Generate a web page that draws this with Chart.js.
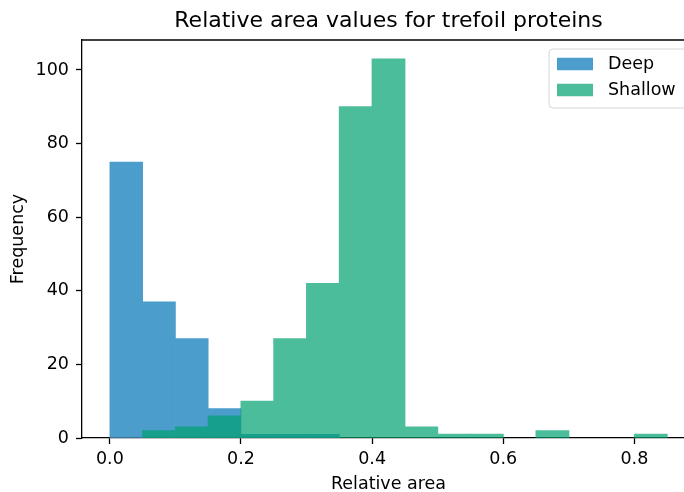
<!DOCTYPE html>
<html>
<head>
<meta charset="utf-8">
<script src="https://cdn.jsdelivr.net/npm/chart.js@4.4.0/dist/chart.umd.min.js"></script>
<style>
  html, body { margin: 0; padding: 0; overflow: hidden; background: #fff; }
  #wrap { width: 700px; height: 492px; }
</style>
</head>
<body>
<div id="wrap"><canvas id="c" width="700" height="492"></canvas></div>
<script>
// ---- data ----
const binStarts = [0.00, 0.05, 0.10, 0.15, 0.20, 0.25, 0.30, 0.35, 0.40, 0.45, 0.50, 0.55, 0.60, 0.65, 0.70, 0.75, 0.80];
const binWidth = 0.05;
const deepCounts    = [75, 37, 27, 8, 1, 1, 1, 0, 0, 0, 0, 0, 0, 0, 0, 0, 0];
const shallowCounts = [0, 2, 3, 6, 10, 27, 42, 90, 103, 3, 1, 1, 0, 2, 0, 0, 1];
const seriesNames = ['Deep', 'Shallow'];
const xTicks = [0.0, 0.2, 0.4, 0.6, 0.8];
const yTicks = [0, 20, 40, 60, 80, 100];
const titleText = 'Relative area values for trefoil proteins';
const xLabel = 'Relative area';
const yLabel = 'Frequency';

const deepColor = '#4b9dcb';
const shallowBase = 'rgb(0,161,112)';
const shallowAlpha = 0.7;
const shallowColor = 'rgba(0,161,112,0.7)';
const FONT = '"DejaVu Sans", sans-serif';
const FS = 17.5;

const toPoints = (counts) => binStarts.map((s, i) => ({ x: s + binWidth / 2, y: counts[i] }));
const inflate = (amt) => (c) => (c.raw && c.raw.y === 0 ? 0 : amt);

// draw the translucent series as one layer so adjacent bars do not show seams
const alphaLayer = {
  id: 'alphaLayer',
  beforeDatasetDraw(chart, args) {
    if (args.index !== 1) return;
    const c = chart.canvas;
    if (!this.off) this.off = document.createElement('canvas');
    this.off.width = c.width; this.off.height = c.height;
    const octx = this.off.getContext('2d');
    octx.setTransform(chart.ctx.getTransform());
    const ctrl = args.meta.controller;
    this.saved = ctrl._ctx;
    ctrl._ctx = octx;
  },
  afterDatasetDraw(chart, args) {
    if (args.index !== 1) return;
    const ctrl = args.meta.controller;
    ctrl._ctx = this.saved;
    const ctx = chart.ctx;
    ctx.save();
    ctx.setTransform(1, 0, 0, 1, 0, 0);
    ctx.globalAlpha = shallowAlpha;
    ctx.drawImage(this.off, 0, 0);
    ctx.restore();
  }
};

const frameLegend = {
  id: 'frameLegend',
  afterDraw(chart) {
    const { ctx, chartArea: a } = chart;
    ctx.save();
    // top spine
    ctx.strokeStyle = '#000';
    ctx.lineWidth = 1.3;
    ctx.beginPath();
    ctx.moveTo(a.left, a.top);
    ctx.lineTo(a.right, a.top);
    ctx.stroke();
    // legend frame
    const lx = a.right - 146, ly = a.top + 9, lw = 140, lh = 59, r = 4;
    ctx.beginPath();
    ctx.moveTo(lx + r, ly);
    ctx.lineTo(lx + lw - r, ly);
    ctx.arcTo(lx + lw, ly, lx + lw, ly + r, r);
    ctx.lineTo(lx + lw, ly + lh - r);
    ctx.arcTo(lx + lw, ly + lh, lx + lw - r, ly + lh, r);
    ctx.lineTo(lx + r, ly + lh);
    ctx.arcTo(lx, ly + lh, lx, ly + lh - r, r);
    ctx.lineTo(lx, ly + r);
    ctx.arcTo(lx, ly, lx + r, ly, r);
    ctx.closePath();
    ctx.fillStyle = 'rgba(255,255,255,0.8)';
    ctx.fill();
    ctx.strokeStyle = '#d6d6d6';
    ctx.lineWidth = 1;
    ctx.stroke();
    const colors = [deepColor, shallowColor];
    ctx.font = FS + 'px ' + FONT;
    ctx.textBaseline = 'middle';
    ctx.textAlign = 'left';
    seriesNames.forEach((name, i) => {
      const cy = ly + 15 + i * 26;
      ctx.fillStyle = colors[i];
      ctx.fillRect(lx + 8, cy - 6.25, 36, 12.5);
      ctx.fillStyle = '#000';
      ctx.fillText(name, lx + 59, cy);
    });
    ctx.restore();
  }
};

new Chart(document.getElementById('c'), {
  type: 'bar',
  data: {
    datasets: [
      { label: seriesNames[0], data: toPoints(deepCounts), backgroundColor: deepColor, borderWidth: 0, inflateAmount: inflate(0.33), order: 2 },
      { label: seriesNames[1], data: toPoints(shallowCounts), backgroundColor: shallowBase, borderWidth: 0, inflateAmount: inflate(0.5), order: 1 }
    ]
  },
  options: {
    responsive: false,
    animation: false,
    devicePixelRatio: 1,
    layout: { padding: { left: 0, right: 5, top: 0, bottom: 0 } },
    datasets: { bar: { grouped: false, barPercentage: 1, categoryPercentage: 1 } },
    plugins: {
      legend: { display: false },
      tooltip: { enabled: false },
      title: {
        display: true, text: titleText, fullSize: false, color: '#000',
        font: { family: FONT, size: 22, weight: 'normal' },
        padding: { top: 8, bottom: 5.6 }
      }
    },
    scales: {
      x: {
        type: 'linear', min: -0.0425, max: 0.8925, offset: false,
        afterBuildTicks: (s) => { s.ticks = xTicks.map(v => ({ value: v })); },
        afterFit: (s) => { s.height = 54; },
        ticks: { color: '#000', font: { family: FONT, size: FS }, padding: 5, maxRotation: 0,
                 callback: (v) => Number(v).toFixed(1) },
        grid: { display: true, offset: false, drawOnChartArea: false, drawTicks: true, tickLength: 6, tickColor: '#000', tickWidth: 1.3 },
        border: { display: true, color: '#000', width: 1.3 },
        title: { display: true, text: xLabel, color: '#000', font: { family: FONT, size: FS }, padding: { top: 0, bottom: -2.5 } }
      },
      y: {
        type: 'linear', min: 0, max: 108.15,
        afterBuildTicks: (s) => { s.ticks = yTicks.map(v => ({ value: v })); },
        afterFit: (s) => { s.width = 82; },
        ticks: { color: '#000', font: { family: FONT, size: FS }, padding: 7,
                 callback: (v) => String(v) },
        grid: { display: true, drawOnChartArea: false, drawTicks: true, tickLength: 6, tickColor: '#000', tickWidth: 1.3 },
        border: { display: true, color: '#000', width: 1.3 },
        title: { display: true, text: yLabel, color: '#000', font: { family: FONT, size: FS }, padding: { top: 8, bottom: 0 } }
      }
    }
  },
  plugins: [alphaLayer, frameLegend]
});
</script>
</body>
</html>
